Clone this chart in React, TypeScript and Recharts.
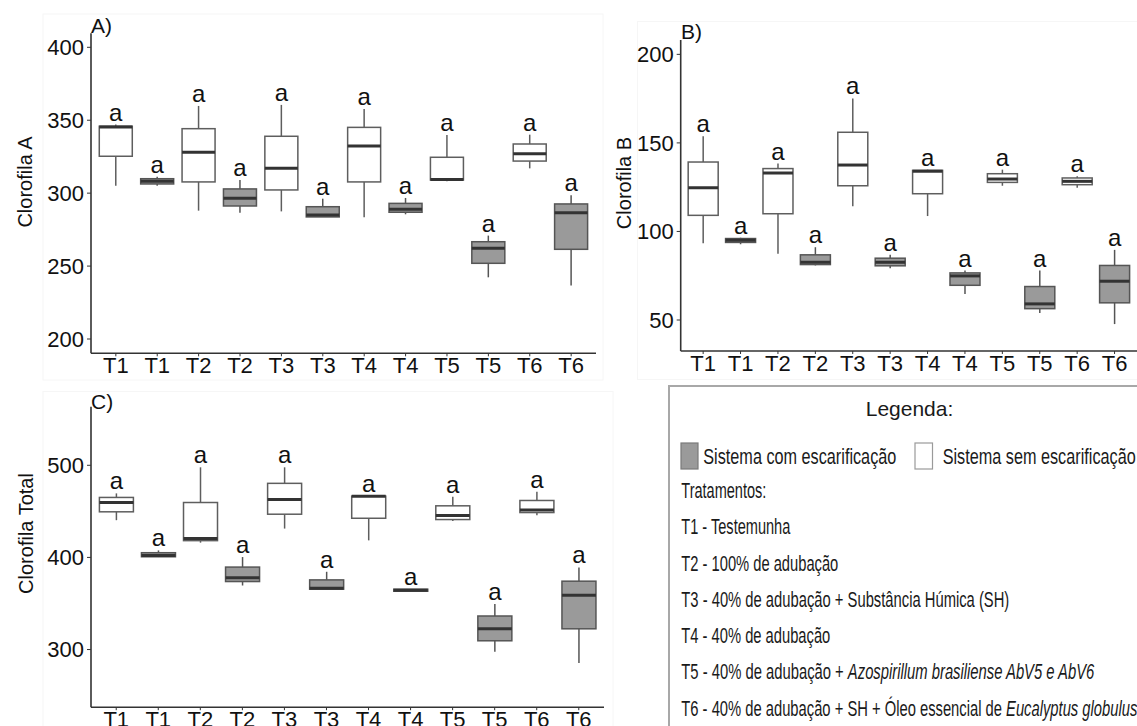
import React from 'react';
import { ComposedChart, Bar, XAxis, YAxis } from 'recharts';

// Treatment order along each x axis: "sem" (white) then "com" (gray) for each treatment.
const categories = ['T1', 'T1', 'T2', 'T2', 'T3', 'T3', 'T4', 'T4', 'T5', 'T5', 'T6', 'T6'];
const systems = ['sem', 'com', 'sem', 'com', 'sem', 'com', 'sem', 'com', 'sem', 'com', 'sem', 'com'];
const letters = ['a', 'a', 'a', 'a', 'a', 'a', 'a', 'a', 'a', 'a', 'a', 'a'];

// Clorofila A
const aMin = [305, 305, 288, 286.6, 287.5, 283.7, 283.4, 285.5, 308.1, 242.3, 317, 236.6];
const aQ1 = [325.3, 306.3, 307.7, 291.2, 302.2, 283.7, 307.7, 286.9, 309, 251.9, 322, 261.5];
const aMedian = [345.4, 308.1, 328, 296.5, 317, 285, 332.3, 288.9, 309.3, 262.2, 327.1, 286.6];
const aQ3 = [345.9, 309.9, 344.2, 302.9, 339, 290.7, 345.1, 293, 324.6, 266.7, 333.7, 292.6];
const aMax = [347, 311.3, 359.8, 309, 360.5, 296.2, 357.7, 296.7, 339.9, 270.9, 340.1, 298.5];

// Clorofila B
const bMin = [93.4, 92.8, 87.4, 80.8, 114.2, 79.2, 108.7, 64.7, 125.8, 54, 124.7, 47.7];
const bQ1 = [109.1, 93.8, 110, 81.3, 125.8, 80.6, 121.3, 69.6, 127.7, 56.4, 126.4, 59.7];
const bMedian = [124.7, 95.1, 133, 82.6, 137.5, 82.6, 134, 74.9, 129.6, 59.1, 128.3, 71.9];
const bQ3 = [139.2, 96, 135.5, 86.8, 156, 84.9, 134.5, 76.6, 132.6, 68.9, 130.2, 80.8];
const bMax = [153.8, 96.4, 138.3, 91.1, 175.1, 86.8, 134.9, 77.9, 134.9, 77.9, 131.1, 89.6];

// Clorofila Total
const tMin = [440.4, 400.4, 416, 369.5, 431.3, 365.5, 418.5, 362.5, 439.6, 297.5, 445.8, 285.5];
const tQ1 = [449.5, 400.7, 418.2, 373.8, 446.9, 365.5, 442.5, 363.3, 441.1, 309.5, 448.7, 322.5];
const tMedian = [459.6, 402.2, 420.4, 377.8, 462.9, 366.5, 466.5, 364.4, 445.5, 322.5, 451.6, 358.9];
const tQ3 = [465.1, 405.1, 459.6, 389.5, 480.4, 375.6, 466.5, 365.5, 456, 336.4, 461.8, 374.2];
const tMax = [469.5, 407.6, 497.8, 400.4, 497.8, 384.4, 466.5, 365.5, 465.8, 349.5, 471.3, 389.1];

const aTicks = [200, 250, 300, 350, 400];
const bTicks = [50, 100, 150, 200];
const tTicks = [300, 400, 500];
const xTicks = [1, 2, 3, 4, 5, 6, 7, 8, 9, 10, 11, 12];

const FONT = "'Liberation Sans', Arial, Helvetica, sans-serif";
const GRAY = '#9a9a9a';
const AXIS = '#333333';

type Row = {
  pos: number;
  label: string;
  system: string;
  letter: string;
  min: number;
  q1: number;
  median: number;
  q3: number;
  max: number;
  range: [number, number];
};

function buildRows(min: number[], q1: number[], median: number[], q3: number[], max: number[]): Row[] {
  return categories.map((label, i) => ({
    pos: xTicks[i],
    label,
    system: systems[i],
    letter: letters[i],
    min: min[i],
    q1: q1[i],
    median: median[i],
    q3: q3[i],
    max: max[i],
    range: [min[i], max[i]],
  }));
}

const rowsA = buildRows(aMin, aQ1, aMedian, aQ3, aMax);
const rowsB = buildRows(bMin, bQ1, bMedian, bQ3, bMax);
const rowsT = buildRows(tMin, tQ1, tMedian, tQ3, tMax);

// The bar spans min..max on the y scale; the quartiles are placed inside that span.
const BoxShape = (props: any) => {
  const { x, y, width, height, payload } = props;
  if (!payload || x == null || y == null) return null;
  const { min, q1, median, q3, max, system, letter } = payload as Row;
  const span = max - min;
  const toY = (v: number) => (span === 0 ? y : y + ((max - v) / span) * height);
  const cx = x + width / 2;
  const yMax = toY(max);
  const yMin = toY(min);
  const yQ3 = toY(q3);
  const yQ1 = toY(q1);
  const yMed = toY(median);
  const isCom = system === 'com';
  const edge = isCom ? '#555555' : '#5e5e5e';
  return (
    <g>
      <line x1={cx} x2={cx} y1={yMax} y2={yQ3} stroke={edge} strokeWidth={1.5} />
      <line x1={cx} x2={cx} y1={yQ1} y2={yMin} stroke={edge} strokeWidth={1.5} />
      <rect
        x={x}
        y={yQ3}
        width={width}
        height={Math.max(yQ1 - yQ3, 0.5)}
        fill={isCom ? GRAY : '#ffffff'}
        stroke={edge}
        strokeWidth={1.5}
      />
      <line x1={x} x2={x + width} y1={yMed} y2={yMed} stroke="#333333" strokeWidth={3} />
      <text x={cx} y={yMax - 4} textAnchor="middle" fontSize={24} fontFamily={FONT} fill="#111111">
        {letter}
      </text>
    </g>
  );
};

type PanelProps = {
  rows: Row[];
  domain: [number, number];
  ticks: number[];
  left: number;
  top: number;
  width: number;
  height: number;
  margin: { top: number; right: number; bottom: number; left: number };
  yAxisWidth: number;
  xAxisHeight: number;
};

const Panel = ({ rows, domain, ticks, left, top, width, height, margin, yAxisWidth, xAxisHeight }: PanelProps) => (
  <div style={{ position: 'absolute', left, top, width, height }}>
    <ComposedChart width={width} height={height} data={rows} margin={margin}>
      <XAxis
        type="number"
        dataKey="pos"
        domain={[0.4, 12.6]}
        allowDataOverflow
        ticks={xTicks}
        interval={0}
        tickFormatter={(v: number) => categories[Math.round(v) - 1]}
        height={xAxisHeight}
        tickSize={3}
        tickMargin={1}
        axisLine={{ stroke: AXIS, strokeWidth: 1.6 }}
        tickLine={{ stroke: AXIS, strokeWidth: 1 }}
        tick={{ fill: '#111111', fontSize: 22, fontFamily: FONT }}
      />
      <YAxis
        type="number"
        domain={domain}
        ticks={ticks}
        interval={0}
        width={yAxisWidth}
        tickSize={4}
        tickMargin={3}
        axisLine={{ stroke: AXIS, strokeWidth: 1.6 }}
        tickLine={{ stroke: AXIS, strokeWidth: 1 }}
        tick={{ fill: '#111111', fontSize: 22, fontFamily: FONT }}
      />
      <Bar dataKey="range" barCategoryGap="12.5%" shape={BoxShape} isAnimationActive={false} />
    </ComposedChart>
  </div>
);

const legendLine = (x: number, y: number, w: number, content: React.ReactNode) => (
  <text x={x} y={y} fontSize={22} fontFamily={FONT} fill="#1a1a1a" textLength={w} lengthAdjust="spacingAndGlyphs">
    {content}
  </text>
);

export default function App() {
  return (
    <div
      style={{
        position: 'absolute',
        left: 0,
        top: 0,
        width: 1137,
        height: 726,
        overflow: 'hidden',
        background: '#ffffff',
        fontFamily: FONT,
      }}
    >
      <svg width={1137} height={726} style={{ position: 'absolute', left: 0, top: 0 }}>
        {/* faint panel frames */}
        <rect x={43} y={14} width={560} height={366} fill="none" stroke="#f6f6f6" strokeWidth={1} />
        <rect x={637.5} y={21.5} width={510} height={358} fill="none" stroke="#f6f6f6" strokeWidth={1} />
        <rect x={43} y={391.5} width={570} height={340} fill="none" stroke="#f6f6f6" strokeWidth={1} />
      </svg>

      <Panel
        rows={rowsA}
        domain={[190.2, 409.6]}
        ticks={aTicks}
        left={0}
        top={0}
        width={600}
        height={380}
        margin={{ top: 33.3, right: 4, bottom: 0, left: 0 }}
        yAxisWidth={91}
        xAxisHeight={26.7}
      />
      <Panel
        rows={rowsB}
        domain={[32.5, 208.1]}
        ticks={bTicks}
        left={600}
        top={0}
        width={537}
        height={380}
        margin={{ top: 40, right: 0, bottom: 0, left: 0 }}
        yAxisWidth={80.7}
        xAxisHeight={29}
      />
      <Panel
        rows={rowsT}
        domain={[237.4, 563.6]}
        ticks={tTicks}
        left={0}
        top={380}
        width={610}
        height={346}
        margin={{ top: 26.7, right: 6, bottom: 0, left: 0 }}
        yAxisWidth={91}
        xAxisHeight={18.8}
      />

      <svg width={1137} height={726} style={{ position: 'absolute', left: 0, top: 0, pointerEvents: 'none' }}>
        {/* panel tags */}
        <text x={91} y={33} fontSize={21} fontFamily={FONT} fill="#111">A)</text>
        <text x={681} y={39} fontSize={21} fontFamily={FONT} fill="#111">B)</text>
        <text x={91} y={409} fontSize={21} fontFamily={FONT} fill="#111">C)</text>

        {/* y axis titles */}
        <text transform="translate(32,182) rotate(-90)" textAnchor="middle" fontSize={20} fontFamily={FONT} fill="#111">
          Clorofila A
        </text>
        <text transform="translate(631,183) rotate(-90)" textAnchor="middle" fontSize={20} fontFamily={FONT} fill="#111">
          Clorofila B
        </text>
        <text transform="translate(33,533.5) rotate(-90)" textAnchor="middle" fontSize={20} fontFamily={FONT} fill="#111">
          Clorofila Total
        </text>

        {/* legend panel */}
        <rect x={669} y={386} width={500} height={360} fill="#ffffff" stroke="#a8a8a8" strokeWidth={2} />
        <text x={909.5} y={416} textAnchor="middle" fontSize={21} fontFamily={FONT} fill="#1a1a1a">
          Legenda:
        </text>
        <rect x={681} y={443} width={17} height={26} fill={GRAY} stroke="#7a7a7a" strokeWidth={1.2} />
        {legendLine(703.3, 464, 193, 'Sistema com escarificação')}
        <rect x={915} y={443} width={17.5} height={26} fill="#ffffff" stroke="#9a9a9a" strokeWidth={1.2} />
        {legendLine(942.7, 464, 193, 'Sistema sem escarificação')}
        {legendLine(681.3, 498.3, 85, 'Tratamentos:')}
        {legendLine(681.3, 534, 109, 'T1 - Testemunha')}
        {legendLine(681.3, 570.7, 157, 'T2 - 100% de adubação')}
        {legendLine(681.3, 606.7, 328, 'T3 - 40% de adubação + Substância Húmica (SH)')}
        {legendLine(681.3, 643.3, 149, 'T4 - 40% de adubação')}
        {legendLine(
          681.3,
          679.3,
          413,
          <>
            T5 - 40% de adubação + <tspan fontStyle="italic">Azospirillum brasiliense AbV5 e AbV6</tspan>
          </>
        )}
        {legendLine(
          681.3,
          716,
          456,
          <>
            T6 - 40% de adubação + SH + Óleo essencial de <tspan fontStyle="italic">Eucalyptus globulus</tspan>
          </>
        )}
      </svg>
    </div>
  );
}
